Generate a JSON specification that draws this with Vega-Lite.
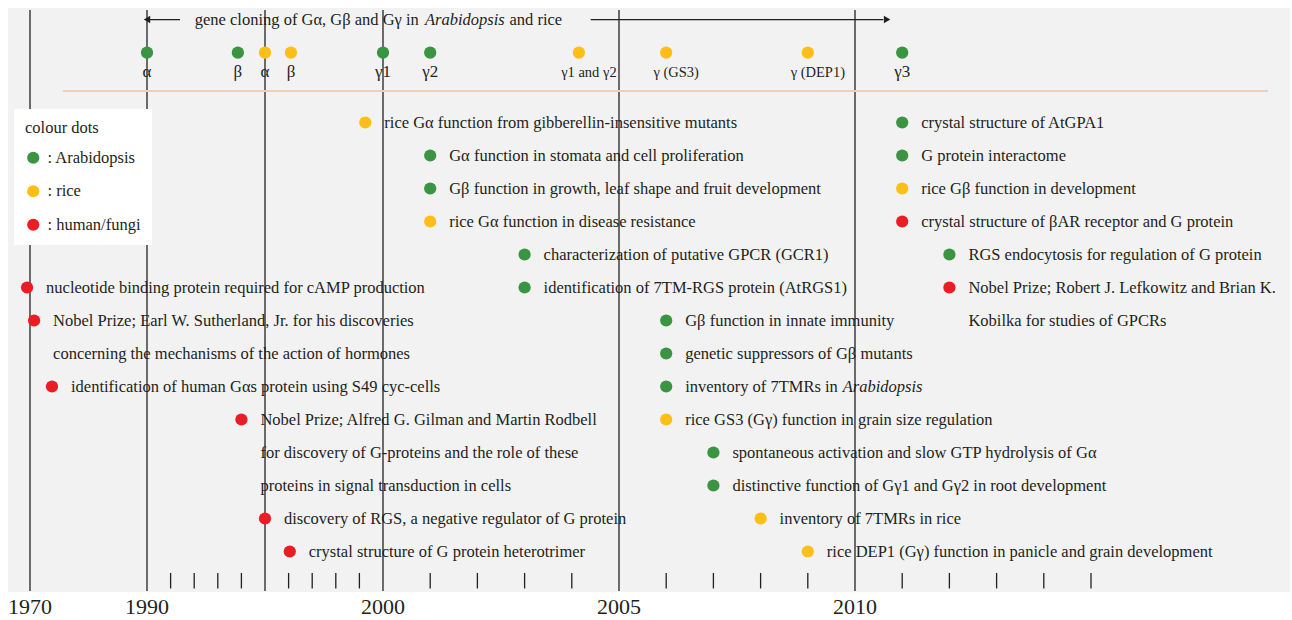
{
  "$schema": "https://vega.github.io/schema/vega-lite/v6.json",
  "width": 1282,
  "height": 584,
  "autosize": {"type": "none"},
  "padding": {"left": 8, "top": 8, "right": 2, "bottom": 28},
  "background": "#ffffff",
  "config": {
    "view": {"fill": "#f2f2f2", "stroke": null},
    "font": "Liberation Serif",
    "text": {"font": "Liberation Serif", "color": "#231f20"}
  },
  "datasets": {
    "events": [
      {"year": 1999.25, "row": 1, "organism": "rice", "label": "rice Gα function from gibberellin-insensitive mutants"},
      {"year": 2001, "row": 2, "organism": "Arabidopsis", "label": "Gα function in stomata and cell proliferation"},
      {"year": 2001, "row": 3, "organism": "Arabidopsis", "label": "Gβ function in growth, leaf shape and fruit development"},
      {"year": 2001, "row": 4, "organism": "rice", "label": "rice Gα function in disease resistance"},
      {"year": 2003, "row": 5, "organism": "Arabidopsis", "label": "characterization of putative GPCR (GCR1)"},
      {"year": 1969.5, "row": 6, "organism": "human/fungi", "label": "nucleotide binding protein required for cAMP production"},
      {"year": 2003, "row": 6, "organism": "Arabidopsis", "label": "identification of 7TM-RGS protein (AtRGS1)"},
      {"year": 1970.7, "row": 7, "organism": "human/fungi", "label": ["Nobel Prize; Earl W. Sutherland, Jr. for his discoveries", "concerning the mechanisms of  the action of hormones"]},
      {"year": 2006, "row": 7, "organism": "Arabidopsis", "label": "Gβ function in innate immunity"},
      {"year": 2006, "row": 8, "organism": "Arabidopsis", "label": "genetic suppressors of Gβ mutants"},
      {"year": 1973.76, "row": 9, "organism": "human/fungi", "label": "identification of human Gαs protein using S49 cyc-cells"},
      {"year": 2006, "row": 9, "organism": "Arabidopsis", "label": "inventory of 7TMRs in"},
      {"year": 1994, "row": 10, "organism": "human/fungi", "label": ["Nobel Prize; Alfred G. Gilman and Martin Rodbell", "for discovery of G-proteins and the role of these", "proteins in signal transduction in cells"]},
      {"year": 2006, "row": 10, "organism": "rice", "label": "rice GS3 (Gγ) function in grain size regulation"},
      {"year": 2007, "row": 11, "organism": "Arabidopsis", "label": "spontaneous activation and slow GTP hydrolysis of Gα"},
      {"year": 2007, "row": 12, "organism": "Arabidopsis", "label": "distinctive function of Gγ1 and Gγ2 in root development"},
      {"year": 1995, "row": 13, "organism": "human/fungi", "label": "discovery of RGS, a negative regulator of G protein"},
      {"year": 2008, "row": 13, "organism": "rice", "label": "inventory of 7TMRs in rice"},
      {"year": 1996.05, "row": 14, "organism": "human/fungi", "label": "crystal structure of G protein heterotrimer"},
      {"year": 2009, "row": 14, "organism": "rice", "label": "rice DEP1 (Gγ) function in panicle and grain development"},
      {"year": 2011, "row": 1, "organism": "Arabidopsis", "label": "crystal structure of AtGPA1"},
      {"year": 2011, "row": 2, "organism": "Arabidopsis", "label": "G protein interactome"},
      {"year": 2011, "row": 3, "organism": "rice", "label": "rice Gβ function in development"},
      {"year": 2011, "row": 4, "organism": "human/fungi", "label": "crystal structure of βAR receptor and G protein"},
      {"year": 2012, "row": 5, "organism": "Arabidopsis", "label": "RGS endocytosis for regulation of G protein"},
      {"year": 2012, "row": 6, "organism": "human/fungi", "label": ["Nobel Prize; Robert J. Lefkowitz and Brian K.", "Kobilka for studies of GPCRs"]}
    ],
    "cloned": [
      {"year": 1990, "organism": "Arabidopsis", "label": "α"},
      {"year": 1993.85, "organism": "Arabidopsis", "label": "β"},
      {"year": 1995, "organism": "rice", "label": "α"},
      {"year": 1996.1, "organism": "rice", "label": "β"},
      {"year": 2000, "organism": "Arabidopsis", "label": "γ1"},
      {"year": 2001, "organism": "Arabidopsis", "label": "γ2"},
      {"year": 2004.15, "organism": "rice", "label": "γ1 and γ2"},
      {"year": 2006, "organism": "rice", "label": "γ (GS3)"},
      {"year": 2009, "organism": "rice", "label": "γ (DEP1)"},
      {"year": 2011, "organism": "Arabidopsis", "label": "γ3"}
    ],
    "majors": [{"year": 1970}, {"year": 1990}, {"year": 1995}, {"year": 2000}, {"year": 2005}, {"year": 2010}],
    "minors": [
      {"year": 1991}, {"year": 1992}, {"year": 1993}, {"year": 1994}, {"year": 1996}, {"year": 1997}, {"year": 1998}, {"year": 1999},
      {"year": 2001}, {"year": 2002}, {"year": 2003}, {"year": 2004},
      {"year": 2006}, {"year": 2007}, {"year": 2008}, {"year": 2009},
      {"year": 2011}, {"year": 2012}, {"year": 2013}, {"year": 2014}, {"year": 2015}
    ]
  },
  "layer": [
    {
      "data": {"name": "majors"},
      "mark": {"type": "rule", "color": "#231f20", "strokeWidth": 1.3},
      "encoding": {
        "x": {
          "field": "year", "type": "quantitative",
          "scale": {"type": "linear", "domain": [1970, 1990, 2000, 2010], "range": [22, 139, 375, 847], "nice": false, "zero": false},
          "axis": null
        },
        "y": {"datum": -2.41, "type": "quantitative", "scale": {"type": "linear", "domain": [0, 14], "range": [81.5, 543.5], "nice": false, "zero": false}, "axis": null},
        "y2": {"datum": 15.2}
      }
    },
    {
      "data": {"name": "majors"},
      "transform": [{"filter": "datum.year != 1995"}],
      "mark": {"type": "text", "align": "center", "baseline": "alphabetic", "fontSize": 22, "clip": false},
      "encoding": {
        "x": {"field": "year", "type": "quantitative", "axis": null},
        "y": {"datum": 15.9, "type": "quantitative", "axis": null},
        "text": {"field": "year", "type": "quantitative", "format": "d"}
      }
    },
    {
      "data": {"name": "minors"},
      "mark": {"type": "rule", "color": "#231f20", "strokeWidth": 1.3},
      "encoding": {
        "x": {"field": "year", "type": "quantitative", "axis": null},
        "y": {"datum": 14.65, "type": "quantitative", "axis": null},
        "y2": {"datum": 15.12}
      }
    },
    {
      "data": {"values": [{"start": 1975.64, "end": 2018.75}]},
      "mark": {"type": "rule", "color": "#ecd0bc", "strokeWidth": 2},
      "encoding": {
        "x": {"field": "start", "type": "quantitative", "axis": null},
        "x2": {"field": "end"},
        "y": {"datum": 0.045, "type": "quantitative", "axis": null}
      }
    },
    {
      "data": {"values": [{"start": 1990.04, "end": 1991.4}, {"start": 2004.4, "end": 2010.6}]},
      "mark": {"type": "rule", "color": "#231f20", "strokeWidth": 1.3},
      "encoding": {
        "x": {"field": "start", "type": "quantitative", "axis": null},
        "x2": {"field": "end"},
        "y": {"datum": -2.12, "type": "quantitative", "axis": null}
      }
    },
    {
      "data": {"values": [{"year": 1990.0, "dir": "left"}, {"year": 2010.68, "dir": "right"}]},
      "mark": {"type": "point", "filled": true, "color": "#231f20", "size": 55, "opacity": 1},
      "encoding": {
        "x": {"field": "year", "type": "quantitative", "axis": null},
        "y": {"datum": -2.12, "type": "quantitative", "axis": null},
        "shape": {"field": "dir", "type": "nominal", "scale": {"domain": ["left", "right"], "range": ["triangle-left", "triangle-right"]}, "legend": null}
      }
    },
    {
      "data": {"values": [{"year": 2000.76, "text": "gene cloning of Gα, Gβ and Gγ in"}]},
      "mark": {"type": "text", "align": "right", "baseline": "alphabetic", "dy": 5, "fontSize": 16.5},
      "encoding": {
        "x": {"field": "year", "type": "quantitative", "axis": null},
        "y": {"datum": -2.12, "type": "quantitative", "axis": null},
        "text": {"field": "text"}
      }
    },
    {
      "data": {"values": [{"year": 2000.89, "row": -2.12, "text": "Arabidopsis"}, {"year": 2009.74, "row": 9, "text": "Arabidopsis"}]},
      "mark": {"type": "text", "align": "left", "baseline": "alphabetic", "dy": 5, "fontSize": 16.5, "fontStyle": "italic"},
      "encoding": {
        "x": {"field": "year", "type": "quantitative", "axis": null},
        "y": {"field": "row", "type": "quantitative", "axis": null},
        "text": {"field": "text"}
      }
    },
    {
      "data": {"values": [{"year": 2002.68, "text": "and rice"}]},
      "mark": {"type": "text", "align": "left", "baseline": "alphabetic", "dy": 5, "fontSize": 16.5},
      "encoding": {
        "x": {"field": "year", "type": "quantitative", "axis": null},
        "y": {"datum": -2.12, "type": "quantitative", "axis": null},
        "text": {"field": "text"}
      }
    },
    {
      "data": {"name": "cloned"},
      "mark": {"type": "point", "filled": true, "size": 150, "opacity": 1},
      "encoding": {
        "x": {"field": "year", "type": "quantitative", "axis": null},
        "y": {"datum": -1.115, "type": "quantitative", "axis": null},
        "color": {
          "field": "organism", "type": "nominal",
          "scale": {"domain": ["Arabidopsis", "rice", "human/fungi"], "range": ["#3a9441", "#fdbe17", "#ec1c24"]},
          "legend": {
            "title": "colour dots", "orient": "none", "legendX": 6, "legendY": 101, "direction": "vertical",
            "fillColor": "#ffffff", "padding": 11,
            "titleFont": "Liberation Serif", "titleFontSize": 16.5, "titleFontWeight": "normal", "titleColor": "#231f20", "titlePadding": 13,
            "labelFont": "Liberation Serif", "labelFontSize": 16.5, "labelColor": "#231f20", "labelOffset": 6,
            "labelExpr": "': ' + datum.label",
            "symbolType": "circle", "symbolSize": 150, "symbolStrokeWidth": 0, "rowPadding": 16.5,
            "encode": {"labels": {"update": {"fontStyle": {"signal": "datum.value === 'Arabidopsis' ? 'italic' : 'normal'"}}}}
          }
        }
      }
    },
    {
      "data": {"name": "cloned"},
      "transform": [{"filter": "length(datum.label) <= 2"}],
      "mark": {"type": "text", "align": "center", "baseline": "alphabetic", "dy": 5, "fontSize": 17},
      "encoding": {
        "x": {"field": "year", "type": "quantitative", "axis": null},
        "y": {"datum": -0.545, "type": "quantitative", "axis": null},
        "text": {"field": "label"}
      }
    },
    {
      "data": {"name": "cloned"},
      "transform": [{"filter": "length(datum.label) > 2"}],
      "mark": {"type": "text", "align": "center", "baseline": "alphabetic", "dy": 5, "dx": 10, "fontSize": 14.5},
      "encoding": {
        "x": {"field": "year", "type": "quantitative", "axis": null},
        "y": {"datum": -0.545, "type": "quantitative", "axis": null},
        "text": {"field": "label"}
      }
    },
    {
      "data": {"name": "events"},
      "mark": {"type": "point", "filled": true, "size": 150, "opacity": 1},
      "encoding": {
        "x": {"field": "year", "type": "quantitative", "axis": null},
        "y": {"field": "row", "type": "quantitative", "axis": null},
        "color": {
          "field": "organism", "type": "nominal",
          "scale": {"domain": ["Arabidopsis", "rice", "human/fungi"], "range": ["#3a9441", "#fdbe17", "#ec1c24"]}
        }
      }
    },
    {
      "data": {"name": "events"},
      "mark": {"type": "text", "align": "left", "baseline": "alphabetic", "dx": 19, "dy": 5, "fontSize": 16.5, "lineHeight": 33},
      "encoding": {
        "x": {"field": "year", "type": "quantitative", "axis": null},
        "y": {"field": "row", "type": "quantitative", "axis": null},
        "text": {"field": "label"}
      }
    }
  ]
}
